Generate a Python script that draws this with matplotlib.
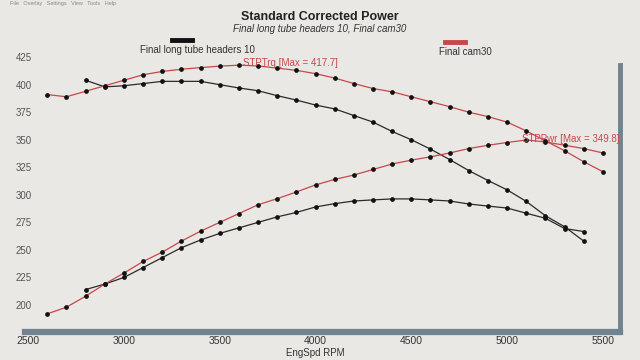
import numpy as np
import matplotlib
matplotlib.use('Agg')
from matplotlib import pyplot as plt
from matplotlib.lines import Line2D

plt.rcParams['font.family'] = ['Liberation Sans', 'DejaVu Sans']

# run 1: Final long tube headers 10 (black)
rpm_hdr = [2800, 2900, 3000, 3100, 3200, 3300, 3400, 3500, 3600, 3700, 3800, 3900, 4000,
           4100, 4200, 4300, 4400, 4500, 4600, 4700, 4800, 4900, 5000, 5100, 5200, 5300, 5400]
trq_hdr = [404, 398, 399, 401, 403, 403, 403, 400, 397, 394.5, 390, 386, 381.5,
           378, 372, 366, 357.5, 350, 341.5, 332, 322, 313, 304.5, 294, 281, 271, 258]
pwr_hdr = [214, 219, 225, 234, 243, 252, 259, 265, 270, 275, 280, 284, 289,
           292, 294.4, 295.4, 296.3, 296.3, 295.4, 294.4, 291.7, 289.8, 288, 283.3, 278.7, 269.4, 266.7]

# run 2: Final cam30 (red)
rpm_cam = [2600, 2700, 2800, 2900, 3000, 3100, 3200, 3300, 3400, 3500, 3600, 3700, 3800, 3900, 4000,
           4100, 4200, 4300, 4400, 4500, 4600, 4700, 4800, 4900, 5000, 5100, 5200, 5300, 5400, 5500]
trq_cam = [391, 389, 394, 399, 404, 409, 412, 414, 415.5, 416.8, 417.7, 417, 415, 413, 410,
           406, 401, 396.5, 393.5, 389, 384.5, 380, 375, 371, 366, 358, 349, 340, 330, 321]
pwr_cam = [192, 198, 208, 219, 229, 239.5, 248, 258, 267, 275, 283, 291, 296.5, 302.6, 309,
           314, 318, 323, 328, 331.5, 334.5, 338, 342, 345, 347.5, 349.8, 348, 345, 342, 338]

x_ticks = [2500, 3000, 3500, 4000, 4500, 5000, 5500]
y_ticks = [200, 225, 250, 275, 300, 325, 350, 375, 400, 425]

bg = '#e9e8e5'
red = '#c9464a'
blk = '#2a2a2a'
frame = '#71838f'

fig = plt.figure(figsize=(6.4, 3.6), dpi=100, facecolor=bg)
ax = fig.add_axes([8/640, 1-332/360, 612/640, 287/360], facecolor=bg)

for r, t, p, c in [(rpm_hdr, trq_hdr, pwr_hdr, blk), (rpm_cam, trq_cam, pwr_cam, red)]:
    ax.plot(r, t, color=c, lw=0.9, marker='o', ms=2.4, mfc='#111111', mec='#111111')
    ax.plot(r, p, color=c, lw=0.9, marker='o', ms=2.4, mfc='#111111', mec='#111111')

ax.set_xlim(2395, 5589)
ax.set_ylim(175.5, 436)
ax.set_xticks(x_ticks)
ax.set_yticks(y_ticks)
ax.tick_params(axis='x', length=0, pad=3, labelsize=7.5, colors='#333333')
ax.tick_params(axis='y', length=0, pad=-17, labelsize=7, colors='#555555')
for s in ['top', 'left']:
    ax.spines[s].set_visible(False)
ax.spines['bottom'].set_color(frame)
ax.spines['bottom'].set_linewidth(4.5)
ax.spines['bottom'].set_bounds(2484, 5589)
ax.spines['right'].set_color(frame)
ax.spines['right'].set_linewidth(3.5)
ax.spines['right'].set_bounds(175.5, 418)

ax.text(3620, 420, 'STPTrq [Max = 417.7]', color=red, fontsize=7, va='center')
ax.text(5080, 351, 'STPPwr [Max = 349.8]', color=red, fontsize=7, va='center')

fig.text(0.5, 1-17/360, 'Standard Corrected Power', ha='center', va='center',
         fontsize=9, fontweight='bold', color='#222222')
fig.text(0.5, 1-29/360, 'Final long tube headers 10, Final cam30', ha='center', va='center',
         fontsize=7, style='italic', color='#333333')

# legend samples
fig.add_artist(Line2D([172/640, 192/640], [1-40/360, 1-40/360], color='#111111', lw=3.5))
fig.text(197/640, 1-50/360, 'Final long tube headers 10', ha='center', va='center', fontsize=7, color='#333333')
fig.add_artist(Line2D([445/640, 465/640], [1-42/360, 1-42/360], color=red, lw=3.5))
fig.text(465/640, 1-52/360, 'Final cam30', ha='center', va='center', fontsize=7, color='#333333')

fig.text(10/640, 1-3/360, 'File   Overlay   Settings   View   Tools   Help', ha='left', va='center',
         fontsize=4, color='#888888')
fig.text(315/640, 1-353/360, 'EngSpd RPM', ha='center', va='center', fontsize=7, color='#333333')

plt.savefig('out.png', dpi=100, facecolor=bg)
